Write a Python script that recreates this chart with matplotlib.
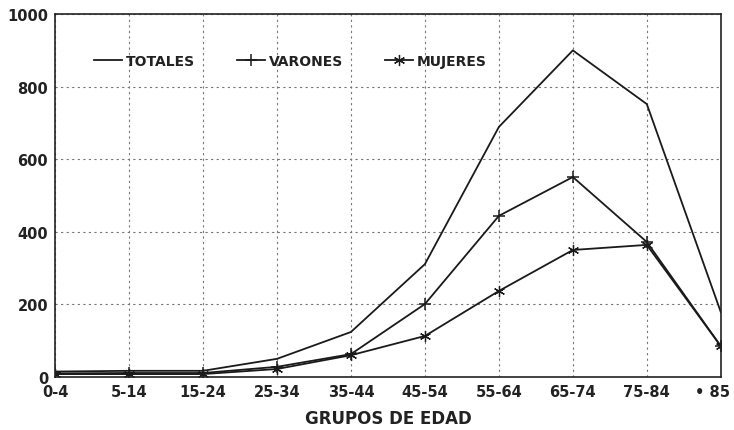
import matplotlib.pyplot as plt
import numpy as np

plt.rcParams['font.family'] = ['DejaVu Sans']

grupos = ['0-4', '5-14', '15-24', '25-34', '35-44', '45-54', '55-64', '65-74', '75-84', '• 85']
totales = [15, 17, 17, 50, 124, 311, 689, 900, 752, 179]
varones = [10, 11, 11, 28, 63, 201, 444, 551, 372, 85]
mujeres = [8, 8, 8, 22, 60, 113, 237, 350, 364, 85]

x = np.arange(len(grupos))

fig = plt.figure(figsize=(7.34, 4.31), dpi=100)
ax = fig.add_axes([0.075, 0.123, 0.907, 0.842])

ax.plot(x, totales, color='#1a1a1a', lw=1.3, label='TOTALES')
ax.plot(x, varones, color='#1a1a1a', lw=1.3, marker='+', ms=9, mew=1.1, label='VARONES')
ax.plot(x, mujeres, color='#1a1a1a', lw=1.3, marker=(6, 2, 0), ms=8, mew=0.9, label='MUJERES')

ax.set_xlim(0, 9)
ax.set_ylim(0, 1000)
ax.set_xticks(x)
# last label sits right at the figure edge, drawn separately below
ax.set_xticklabels(grupos[:-1] + [''])
ax.set_yticks(range(0, 1001, 200))
ax.grid(True, color='#777777', ls=(0, (2, 3)), lw=0.8)
ax.tick_params(length=0, labelsize=10.5, pad=5)
for lab in ax.get_xticklabels() + ax.get_yticklabels():
    lab.set_fontweight('bold')
    lab.set_color('#222222')
ax.annotate(grupos[-1], xy=(x[-1], 0), xycoords=('data', 'axes fraction'),
            xytext=(6.5, -5), textcoords='offset points', ha='right', va='top',
            fontsize=10.5, fontweight='bold', color='#222222')
for s in ax.spines.values():
    s.set_color('#222222')
    s.set_linewidth(1.2)

ax.set_xlabel('GRUPOS DE EDAD', fontsize=12, fontweight='bold', color='#222222', labelpad=7)

leg = ax.legend(loc='upper left', bbox_to_anchor=(0.04, 0.925), ncol=3, frameon=False,
                prop={'weight': 'bold', 'size': 10}, handlelength=2.0, handletextpad=0.3,
                columnspacing=3.0)
for t in leg.get_texts():
    t.set_color('#222222')

fig.savefig('out.png', dpi=100)
